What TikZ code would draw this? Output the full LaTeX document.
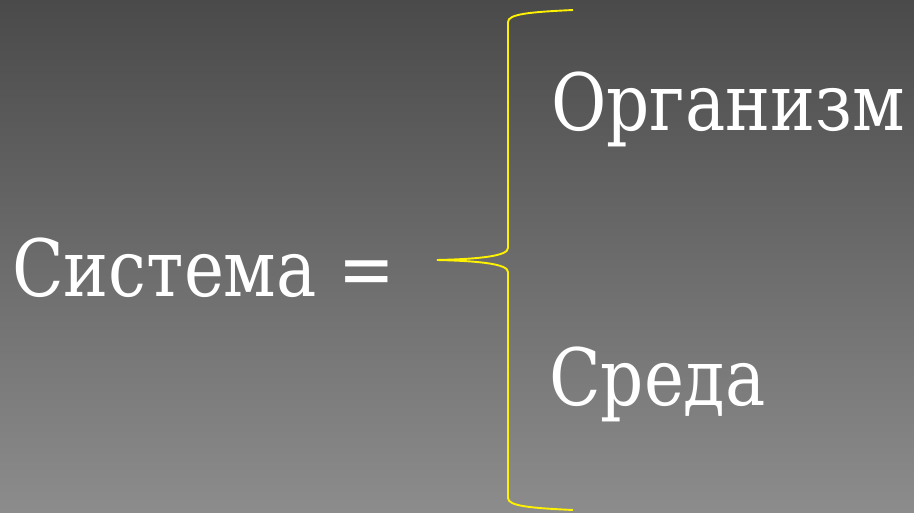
\documentclass[tikz,border=0pt]{standalone}
\usepackage{fontspec}
\newfontfamily\slidefont{DejaVu Serif Condensed}
\begin{document}
\begin{tikzpicture}[x=1pt,y=-1pt,
  slidetext/.style={text=white,inner sep=0pt,anchor=base west,xscale=0.95,font=\slidefont\fontsize{79}{95}\selectfont},
  bracestroke/.style={draw=yellow,line width=1.9pt}]
% backdrop: vertical grey gradient
\shade[top color={rgb,255:red,74;green,74;blue,74},bottom color={rgb,255:red,140;green,140;blue,140}]
  (0,0) rectangle (914,512);
\useasboundingbox (0,0) rectangle (914,512);
% labels
\node[slidetext] (sys) at (12,296) {Система =};
\node[slidetext] (org) at (551,130) {Организм};
\node[slidetext] (env) at (549,405) {Среда};
% curly brace
\coordinate (tip) at (437,260);
\coordinate (top) at (573,10);
\coordinate (bot) at (573,510);
\path[bracestroke] (top) .. controls (530,12) and (508,14) .. (508,22) -- (508,248)
  .. controls (508,256) and (480,259) .. (tip)
  .. controls (480,261) and (508,264) .. (508,272) -- (508,498)
  .. controls (508,506) and (530,508) .. (bot);
\end{tikzpicture}
\end{document}
